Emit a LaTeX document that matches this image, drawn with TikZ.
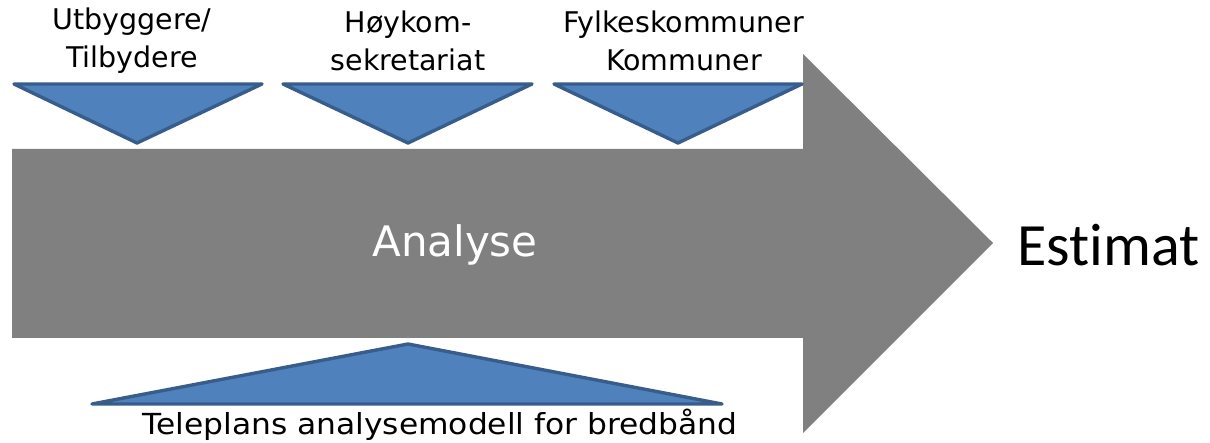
\documentclass[tikz,border=0pt]{standalone}
\usepackage{fontspec}
\setmainfont{DejaVu Sans}
\newfontfamily\calfont[RawFeature=-liga]{Carlito}
\definecolor{tblue}{HTML}{4F81BD}
\definecolor{tedge}{HTML}{385D8A}
\definecolor{agray}{HTML}{808080}
\begin{document}
\begin{tikzpicture}[x=1pt,y=-1pt,
  tri/.style={fill=tblue,draw=tedge,line width=3.4pt,line join=round,line cap=round},
  lbl/.style={font=\fontsize{28.5}{38}\selectfont,align=center,inner sep=0pt,text=black}]
\useasboundingbox (0,0) rectangle (1210,443);
% big arrow
\fill[agray] (12,149) -- (803,149) -- (803,54) -- (993,243) -- (803,433) -- (803,338) -- (12,338) -- cycle;
\node[font=\fontsize{42}{48}\selectfont,text=white] (analyse) at (455,245) {Analyse};
\node[font=\calfont\fontsize{60}{66}\selectfont,anchor=west,inner sep=0pt] (estimat) at (1017,245) {Estimat};
% top triangles
\draw[tri] (14,84) -- (262,84) -- (137,143) -- cycle;
\draw[tri] (283,84) -- (532,84) -- (408,143) -- cycle;
\draw[tri] (554,84) -- (802,84) -- (678,143) -- cycle;
% bottom triangle
\draw[tri] (92,404) -- (722,404) -- (408,344) -- cycle;
% labels
\node[lbl] (l1) at (132,41) {Utbyggere/\\Tilbydere};
\node[lbl] (l2) at (408,41) {Høykom-\\sekretariat};
\node[lbl] (l3) at (684,41) {Fylkeskommuner\\Kommuner};
\node[font=\fontsize{29}{34}\selectfont,anchor=base,inner sep=0pt] (l4) at (440,434) {\scalebox{1.08}[1]{Teleplans analysemodell for bredbånd}};
\end{tikzpicture}
\end{document}
